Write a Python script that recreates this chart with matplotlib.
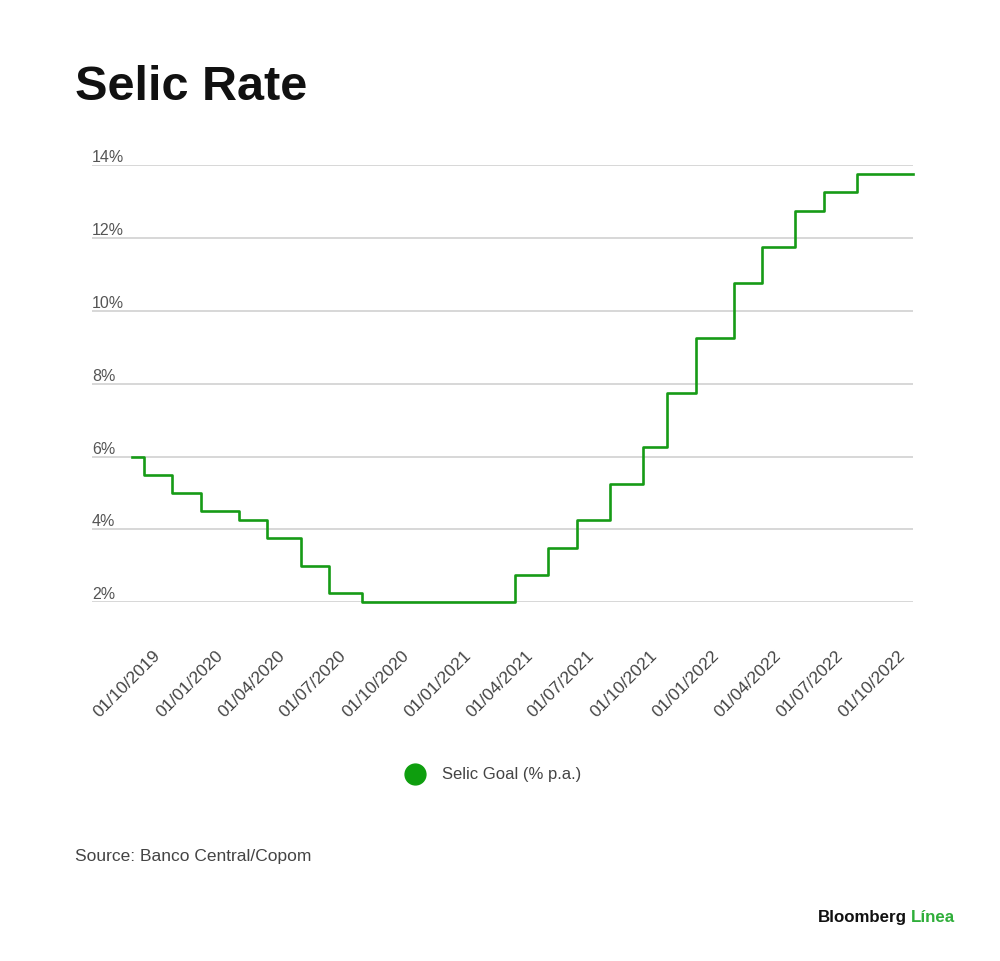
import matplotlib
matplotlib.use('Agg')
import matplotlib.pyplot as plt
import matplotlib.dates as mdates
import matplotlib.transforms as mtransforms
import pandas as pd

plt.rcParams['font.family'] = ['Liberation Sans', 'DejaVu Sans']

# Copom decisions (date the new target starts) and the Selic target, % p.a.
change_dates = ['2019-09-01', '2019-09-18', '2019-10-30', '2019-12-11', '2020-02-05',
                '2020-03-18', '2020-05-06', '2020-06-17', '2020-08-05', '2021-03-17',
                '2021-05-05', '2021-06-16', '2021-08-04', '2021-09-22', '2021-10-27',
                '2021-12-08', '2022-02-02', '2022-03-16', '2022-05-04', '2022-06-15',
                '2022-08-03', '2022-10-24']
selic_goal = [6.00, 5.50, 5.00, 4.50, 4.25, 3.75, 3.00, 2.25, 2.00, 2.75,
              3.50, 4.25, 5.25, 6.25, 7.75, 9.25, 10.75, 11.75, 12.75, 13.25,
              13.75, 13.75]
y_ticks = [2, 4, 6, 8, 10, 12, 14]
series_name = 'Selic Goal (% p.a.)'

green = '#169b16'
grey_txt = '#555555'

dates = pd.to_datetime(change_dates)

fig = plt.figure(figsize=(10, 9.61), dpi=100)
ax = fig.add_axes([0.092, 0.3733, 0.821, 0.455])

ax.step(dates, selic_goal, where='post', color=green, lw=1.9, clip_on=False, zorder=3)

ax.set_xlim(pd.Timestamp('2019-07-04'), pd.Timestamp('2022-10-24'))
ax.set_ylim(2, 14)

# grid + y labels sitting on top of the lines
ax.set_yticks(y_ticks)
ax.yaxis.grid(True, color='#d4d4d4', lw=1.3)
ax.tick_params(axis='y', length=0, labelleft=False)
trans = mtransforms.blended_transform_factory(ax.transAxes, ax.transData)
for v in y_ticks:
    ax.text(0.0, v, f'{v}%', transform=trans, ha='left', va='bottom',
            fontsize=11.5, color=grey_txt)

ax.xaxis.set_major_locator(mdates.MonthLocator(bymonth=[1, 4, 7, 10], bymonthday=1))
ax.xaxis.set_major_formatter(mdates.DateFormatter('%d/%m/%Y'))
ax.tick_params(axis='x', length=0, pad=33, labelsize=12.5, labelcolor='#444444')
for lab in ax.get_xticklabels():
    lab.set_rotation(45)
    lab.set_ha('right')
    lab.set_rotation_mode('anchor')

for s in ax.spines.values():
    s.set_visible(False)
ax.set_axisbelow(True)

# title
fig.text(0.075, 0.896, 'Selic Rate', fontsize=35, fontweight='bold', color='#111111',
         ha='left', va='baseline')

# legend
fig.legend(handles=[plt.Line2D([], [], marker='o', ls='none', markersize=15,
                               markerfacecolor='#0e9e0e', markeredgecolor='#0e9e0e',
                               label=series_name)],
           loc='center', bbox_to_anchor=(0.49, 1 - 775 / 961), frameon=False,
           fontsize=12, labelcolor='#444444', handletextpad=0.6)

# footer
fig.text(0.075, 1 - 857 / 961, 'Source: Banco Central/Copom', fontsize=12.5,
         color='#444444', ha='left', va='center')
brand_y = 1 - 922 / 961
brand = fig.text(0.818, brand_y, 'Bloomberg', fontsize=12.2, fontweight='bold',
                 color='#111111', ha='left', va='baseline')
fig.canvas.draw()
bb = brand.get_window_extent().transformed(fig.transFigure.inverted())
fig.text(bb.x1 + 0.004, brand_y, 'Línea', fontsize=12.2, fontweight='bold',
         color='#2fae3a', ha='left', va='baseline')

fig.savefig('out.png', dpi=100, facecolor='white')
